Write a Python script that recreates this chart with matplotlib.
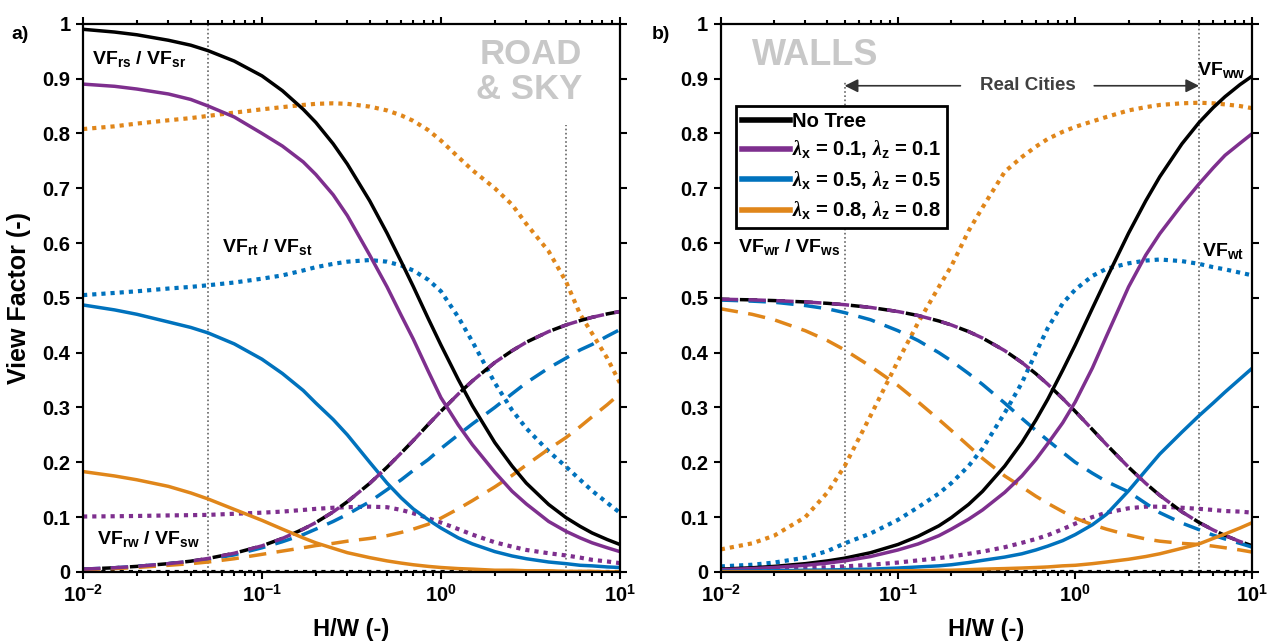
import matplotlib.pyplot as plt
from matplotlib.lines import Line2D

hw = [0.01, 0.015, 0.02, 0.03, 0.04, 0.05, 0.07, 0.1, 0.13, 0.17, 0.2, 0.25, 0.3, 0.4, 0.5,
      0.6, 0.7, 0.85, 1, 1.25, 1.5, 2, 2.5, 3, 4, 5, 6, 7, 8.5, 10]

# a) road & sky: VF_rs / VF_sr (solid)
rs_none = [0.990, 0.985, 0.980, 0.970, 0.961, 0.951, 0.932, 0.905, 0.878, 0.844, 0.820, 0.781, 0.744, 0.677, 0.618,
           0.566, 0.521, 0.462, 0.414, 0.351, 0.303, 0.236, 0.193, 0.162, 0.123, 0.099, 0.083, 0.071, 0.059, 0.050]
rs_01 = [0.890, 0.886, 0.881, 0.872, 0.862, 0.850, 0.830, 0.800, 0.777, 0.748, 0.725, 0.688, 0.650, 0.578, 0.520,
         0.468, 0.425, 0.366, 0.318, 0.268, 0.232, 0.182, 0.147, 0.124, 0.092, 0.074, 0.062, 0.053, 0.044, 0.037]
rs_05 = [0.487, 0.478, 0.470, 0.456, 0.446, 0.436, 0.416, 0.388, 0.362, 0.331, 0.308, 0.278, 0.250, 0.200, 0.162,
         0.135, 0.115, 0.095, 0.080, 0.062, 0.051, 0.037, 0.029, 0.024, 0.018, 0.015, 0.012, 0.011, 0.009, 0.008]
rs_08 = [0.183, 0.175, 0.168, 0.156, 0.144, 0.133, 0.114, 0.094, 0.078, 0.062, 0.053, 0.043, 0.035, 0.026, 0.020,
         0.016, 0.013, 0.010, 0.008, 0.006, 0.005, 0.003, 0.003, 0.002, 0.002, 0.001, 0.001, 0.001, 0.000, 0.000]
# VF_rt / VF_st (dotted)
rt_none = [0, 0, 0, 0, 0, 0, 0, 0, 0, 0, 0, 0, 0, 0, 0, 0, 0, 0, 0, 0, 0, 0, 0, 0, 0, 0, 0, 0, 0, 0]
rt_01 = [0.101, 0.1015, 0.102, 0.103, 0.1035, 0.104, 0.106, 0.108, 0.110, 0.113, 0.115, 0.117, 0.118, 0.119, 0.118,
         0.113, 0.107, 0.098, 0.090, 0.078, 0.068, 0.054, 0.046, 0.040, 0.034, 0.030, 0.026, 0.022, 0.019, 0.016]
rt_05 = [0.505, 0.509, 0.512, 0.517, 0.520, 0.523, 0.528, 0.535, 0.541, 0.550, 0.556, 0.562, 0.566, 0.569, 0.566,
         0.559, 0.550, 0.533, 0.512, 0.465, 0.420, 0.345, 0.295, 0.262, 0.220, 0.192, 0.168, 0.148, 0.126, 0.108]
rt_08 = [0.808, 0.813, 0.818, 0.824, 0.828, 0.832, 0.838, 0.844, 0.848, 0.852, 0.854, 0.855, 0.854, 0.849, 0.842,
         0.833, 0.823, 0.806, 0.787, 0.757, 0.733, 0.700, 0.670, 0.635, 0.585, 0.530, 0.470, 0.435, 0.390, 0.345]
# VF_rw / VF_sw (dashed)
rw_none = [0.005, 0.0075, 0.010, 0.015, 0.0195, 0.0245, 0.034, 0.0475, 0.061, 0.078, 0.090, 0.1095, 0.128, 0.1615, 0.191,
           0.217, 0.2395, 0.269, 0.293, 0.3245, 0.3485, 0.382, 0.4035, 0.419, 0.4385, 0.4505, 0.4585, 0.4645, 0.4707, 0.475]
rw_01 = [0.005, 0.0075, 0.010, 0.015, 0.0195, 0.0245, 0.034, 0.0475, 0.061, 0.078, 0.090, 0.1095, 0.128, 0.1615, 0.191,
         0.217, 0.2395, 0.269, 0.293, 0.3245, 0.3485, 0.382, 0.4035, 0.419, 0.4385, 0.4505, 0.4585, 0.4645, 0.4707, 0.475]
rw_05 = [0.005, 0.0075, 0.010, 0.015, 0.019, 0.023, 0.031, 0.044, 0.055, 0.068, 0.078, 0.092, 0.105, 0.128, 0.150,
         0.168, 0.185, 0.205, 0.225, 0.250, 0.270, 0.300, 0.325, 0.345, 0.372, 0.390, 0.405, 0.415, 0.430, 0.442]
rw_08 = [0.004, 0.006, 0.008, 0.012, 0.015, 0.018, 0.024, 0.032, 0.038, 0.044, 0.048, 0.052, 0.056, 0.061, 0.066,
         0.072, 0.078, 0.087, 0.098, 0.115, 0.130, 0.155, 0.176, 0.195, 0.224, 0.245, 0.265, 0.283, 0.305, 0.325]

# b) walls: VF_ww (solid)
ww_none = [0.005, 0.0075, 0.010, 0.015, 0.020, 0.025, 0.035, 0.050, 0.065, 0.084, 0.099, 0.123, 0.147, 0.193, 0.236,
           0.277, 0.315, 0.368, 0.414, 0.481, 0.535, 0.618, 0.677, 0.721, 0.781, 0.820, 0.847, 0.867, 0.889, 0.905]
ww_01 = [0.004, 0.006, 0.008, 0.012, 0.016, 0.020, 0.028, 0.040, 0.051, 0.066, 0.078, 0.096, 0.113, 0.145, 0.175,
         0.205, 0.234, 0.272, 0.310, 0.372, 0.430, 0.520, 0.578, 0.617, 0.670, 0.708, 0.737, 0.760, 0.782, 0.800]
ww_05 = [0.001, 0.0015, 0.002, 0.003, 0.0035, 0.004, 0.005, 0.007, 0.009, 0.011, 0.013, 0.017, 0.021, 0.027, 0.033,
         0.040, 0.047, 0.057, 0.068, 0.086, 0.105, 0.148, 0.185, 0.215, 0.255, 0.285, 0.308, 0.328, 0.352, 0.372]
ww_08 = [0.000, 0.000, 0.000, 0.001, 0.001, 0.001, 0.001, 0.002, 0.002, 0.003, 0.003, 0.004, 0.005, 0.006, 0.007,
         0.008, 0.009, 0.011, 0.012, 0.015, 0.018, 0.023, 0.028, 0.033, 0.043, 0.051, 0.061, 0.069, 0.080, 0.090]
# VF_wt (dotted)
wt_none = [0, 0, 0, 0, 0, 0, 0, 0, 0, 0, 0, 0, 0, 0, 0, 0, 0, 0, 0, 0, 0, 0, 0, 0, 0, 0, 0, 0, 0, 0]
wt_01 = [0.003, 0.004, 0.005, 0.007, 0.0085, 0.010, 0.013, 0.017, 0.021, 0.025, 0.028, 0.033, 0.037, 0.045, 0.053,
         0.060, 0.067, 0.078, 0.088, 0.100, 0.108, 0.116, 0.119, 0.119, 0.117, 0.115, 0.113, 0.111, 0.110, 0.108]
wt_05 = [0.010, 0.013, 0.017, 0.026, 0.038, 0.052, 0.070, 0.095, 0.118, 0.143, 0.162, 0.193, 0.225, 0.290, 0.345,
         0.400, 0.445, 0.490, 0.515, 0.540, 0.553, 0.563, 0.568, 0.570, 0.567, 0.562, 0.556, 0.552, 0.546, 0.541]
wt_08 = [0.041, 0.052, 0.066, 0.100, 0.145, 0.193, 0.285, 0.385, 0.455, 0.520, 0.558, 0.622, 0.665, 0.730, 0.757,
         0.776, 0.790, 0.803, 0.812, 0.822, 0.830, 0.842, 0.848, 0.852, 0.855, 0.856, 0.855, 0.853, 0.850, 0.846]
# VF_wr / VF_ws (dashed)
wr_none = [0.4975, 0.4963, 0.495, 0.4925, 0.490, 0.4875, 0.4825, 0.475, 0.4677, 0.4578, 0.4505, 0.4385, 0.4266, 0.4037, 0.382,
           0.3615, 0.3424, 0.3162, 0.2929, 0.2597, 0.2324, 0.191, 0.1615, 0.1396, 0.1096, 0.0901, 0.0765, 0.0664, 0.0554, 0.0475]
wr_01 = [0.4975, 0.4963, 0.495, 0.4925, 0.490, 0.4875, 0.4825, 0.475, 0.4677, 0.4578, 0.4505, 0.4385, 0.4266, 0.4037, 0.382,
         0.3615, 0.3424, 0.3162, 0.2929, 0.2597, 0.2324, 0.191, 0.1615, 0.1396, 0.1096, 0.0901, 0.0765, 0.0664, 0.0554, 0.0475]
wr_05 = [0.496, 0.494, 0.492, 0.486, 0.480, 0.473, 0.460, 0.440, 0.422, 0.400, 0.385, 0.362, 0.342, 0.308, 0.280,
         0.258, 0.240, 0.218, 0.200, 0.180, 0.165, 0.146, 0.125, 0.108, 0.089, 0.077, 0.067, 0.060, 0.052, 0.045]
wr_08 = [0.480, 0.470, 0.460, 0.440, 0.422, 0.405, 0.375, 0.340, 0.310, 0.278, 0.258, 0.230, 0.207, 0.175, 0.155,
         0.138, 0.125, 0.110, 0.098, 0.086, 0.078, 0.067, 0.060, 0.056, 0.052, 0.050, 0.047, 0.044, 0.040, 0.036]

legend_labels = ['No Tree',
                 r'$\mathit{\lambda}_x$ = 0.1, $\mathit{\lambda}_z$ = 0.1',
                 r'$\mathit{\lambda}_x$ = 0.5, $\mathit{\lambda}_z$ = 0.5',
                 r'$\mathit{\lambda}_x$ = 0.8, $\mathit{\lambda}_z$ = 0.8']
colors = ['#000000', '#7E2F8E', '#0072BD', '#E0861A']

plt.rcParams['font.family'] = 'Liberation Sans'
plt.rcParams['font.weight'] = 'bold'
plt.rcParams['axes.labelweight'] = 'bold'
plt.rcParams['mathtext.fontset'] = 'custom'
plt.rcParams['mathtext.rm'] = 'Liberation Sans:bold'
plt.rcParams['mathtext.bf'] = 'Liberation Sans:bold'
plt.rcParams['mathtext.it'] = 'Liberation Serif:italic'
plt.rcParams['mathtext.default'] = 'rm'

fig = plt.figure(figsize=(12.78, 6.44), dpi=100)
ax1 = fig.add_axes([0.065, 0.112, 0.420, 0.851])
ax2 = fig.add_axes([0.564, 0.112, 0.416, 0.851])

DOT = (0, (1, 1.2))
DASH = (0, (5, 3))
REF = dict(color='#666666', lw=1.2, linestyle=(0, (1, 1.5)), zorder=1)


def draw(ax, solid, dotted, dashed):
    for vals, c in zip(dotted, colors):
        ax.plot(hw, vals, color=c, lw=3, linestyle=DOT, dash_capstyle='butt')
    for i, (vals, c) in enumerate(zip(dashed, colors)):
        ls = (2.5, (5, 3)) if i == 0 else DASH
        ax.plot(hw, vals, color=c, lw=2.5, linestyle=ls, zorder=2.1 if i == 1 else 2)
    for vals, c in zip(solid, colors):
        ax.plot(hw, vals, color=c, lw=2.5)


def style(ax):
    ax.set_xscale('log')
    ax.set_xlim(0.01, 10)
    ax.set_ylim(0, 1)
    ax.set_xticks([0.01, 0.1, 1, 10])
    ax.set_xticklabels(['$10^{-2}$', '$10^{-1}$', '$10^{0}$', '$10^{1}$'])
    ax.set_yticks([i / 10 for i in range(11)])
    ax.set_yticklabels(['0', '0.1', '0.2', '0.3', '0.4', '0.5', '0.6', '0.7', '0.8', '0.9', '1'])
    ax.tick_params(which='both', direction='out', top=True, right=True, labelsize=14.5, width=1.5)
    ax.tick_params(which='major', length=5, pad=4)
    ax.tick_params(which='minor', length=3)
    for s in ax.spines.values():
        s.set_linewidth(1.6)
    ax.set_xlabel('H/W (-)', fontsize=17)
    ax.xaxis.set_label_coords(0.5, -0.085)
    ax.xaxis.label.set_va('top')


# a) road & sky
draw(ax1, [rs_none, rs_01, rs_05, rs_08], [rt_none, rt_01, rt_05, rt_08], [rw_none, rw_01, rw_05, rw_08])
style(ax1)
ax1.plot([0.05, 0.05], [0, 1], **REF)
ax1.plot([5, 5], [0, 0.815], **REF)
ax1.set_ylabel('View Factor (-)', fontsize=18)
ax1.yaxis.set_label_coords(-0.097, 0.5)
ax1.text(0.0112, 0.935, 'VF$_{rs}$ / VF$_{sr}$', fontsize=14, va='center')
ax1.text(0.060, 0.593, 'VF$_{rt}$ / VF$_{st}$', fontsize=14, va='center')
ax1.text(0.012, 0.060, 'VF$_{rw}$ / VF$_{sw}$', fontsize=14, va='center')
ax1.text(0.93, 0.975, 'ROAD\n& SKY', transform=ax1.transAxes, ha='right', va='top',
         ma='right', fontsize=25, color='#C8C8C8', linespacing=1.1)
fig.text(0.009, 0.946, 'a)', fontsize=14, va='center')

# b) walls
draw(ax2, [ww_none, ww_01, ww_05, ww_08], [wt_none, wt_01, wt_05, wt_08], [wr_none, wr_01, wr_05, wr_08])
style(ax2)
ax2.plot([0.05, 0.05], [0, 0.895], **REF)
ax2.plot([5, 5], [0, 1], **REF)
ax2.text(0.058, 0.975, 'WALLS', transform=ax2.transAxes, ha='left', va='top',
         fontsize=26, color='#C8C8C8')
ax2.text(4.85, 0.916, 'VF$_{ww}$', fontsize=14, va='center')
ax2.text(5.2, 0.585, 'VF$_{wt}$', fontsize=14, va='center')
ax2.text(0.0125, 0.593, 'VF$_{wr}$ / VF$_{ws}$', fontsize=14, va='center')
ax2.text(0.54, 0.887, 'Real Cities', fontsize=13.5, color='#404040', ha='center', va='center')
arrow = dict(arrowstyle='-|>', color='#333333', lw=1.2, mutation_scale=20, shrinkA=0, shrinkB=0)
ax2.annotate('', xy=(0.05, 0.887), xytext=(0.225, 0.887), arrowprops=arrow)
ax2.annotate('', xy=(5, 0.887), xytext=(1.28, 0.887), arrowprops=arrow)
fig.text(0.510, 0.946, 'b)', fontsize=14, va='center')

handles = [Line2D([0], [0], color=c, lw=4) for c in colors]
leg = ax2.legend(handles, legend_labels, loc='upper left', bbox_to_anchor=(0.028, 0.85),
                 borderaxespad=0, fontsize=14.5, handlelength=2.4, handletextpad=0.1,
                 labelspacing=0.4, fancybox=False, framealpha=1, borderpad=0.3)
leg.get_frame().set_edgecolor('black')
leg.get_frame().set_linewidth(2)

fig.savefig('out.png', dpi=100)
